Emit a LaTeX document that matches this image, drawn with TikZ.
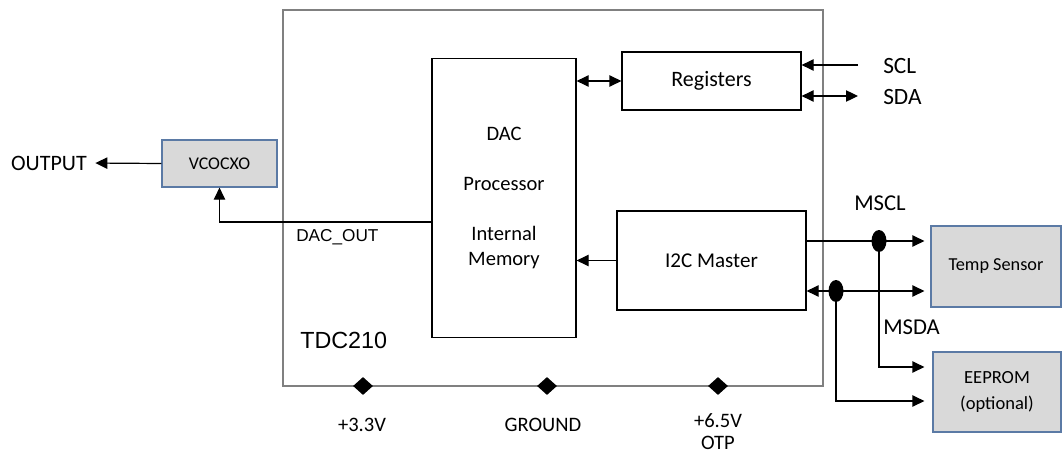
\documentclass[tikz,border=0pt]{standalone}
\usepackage{fontspec}
\setmainfont{Carlito}
\newfontfamily\arialfont{Liberation Sans}
\usetikzlibrary{arrows.meta,shapes.geometric}
\definecolor{boxfill}{RGB}{217,217,217}
\definecolor{boxline}{RGB}{91,122,165}
\definecolor{chipline}{RGB}{128,128,128}
\tikzset{
  >={Triangle[length=9pt,width=8.5pt]},
  wire/.style={draw=black,line width=0.9pt},
  blockbox/.style={draw=black,line width=0.9pt,fill=white,inner sep=0pt,align=center},
  partbox/.style={draw=boxline,line width=0.9pt,fill=boxfill,inner sep=0pt,align=center},
  junction/.style={ellipse,fill=black,inner sep=0pt,minimum width=11.25pt,minimum height=16.5pt},
  pin/.style={diamond,fill=black,inner sep=0pt,minimum width=15pt,minimum height=13.5pt},
  lbl/.style={inner sep=0.75pt,align=center}
}
\begin{document}
\begin{tikzpicture}[x=0.75pt,y=0.75pt,yscale=-1,xscale=1]
        \useasboundingbox (0,0) rectangle (1063,453);
        %Shape: Rectangle [id:chip] 
        \node [draw=chipline,line width=1.1pt,inner sep=0pt,minimum width=405pt,minimum height=282pt] (tdc) at (553,198) {};
        %Shape: Rectangle [id:dac] 
        \node [blockbox,minimum width=108pt,minimum height=209.25pt,font=\fontsize{15.4}{18.75}\selectfont] (dac) at (504,198) {DAC\\[19pt]Processor\\[19pt]Internal\\Memory};
        %Shape: Rectangle [id:registers] 
        \node [blockbox,minimum width=134.25pt,minimum height=43.5pt,font=\fontsize{16.5}{20}\selectfont] (reg) at (711.5,81) {Registers};
        %Shape: Rectangle [id:i2cmaster] 
        \node [blockbox,minimum width=141.75pt,minimum height=74.25pt,font=\fontsize{15.8}{19}\selectfont] (i2c) at (711.5,260.5) {I2C Master};
        %Shape: Rectangle [id:vcocxo] 
        \node [partbox,minimum width=86.25pt,minimum height=35.25pt,font=\fontsize{13.4}{16}\selectfont] (vco) at (219.5,163.5) {VCOCXO};
        %Shape: Rectangle [id:tempsensor] 
        \node [partbox,minimum width=97.5pt,minimum height=60.75pt,font=\fontsize{13.7}{16}\selectfont] (temp) at (996,266.5) {Temp Sensor};
        %Shape: Rectangle [id:eeprom] 
        \node [partbox,minimum width=96pt,minimum height=60pt,font=\fontsize{13.9}{19.5}\selectfont] (eeprom) at (997,392) {EEPROM\\(optional)};

        % Text Node
        \node [lbl,anchor=east,font=\fontsize{16.5}{20}\selectfont] (out) at (88,163) {OUTPUT};
        % Text Node
        \node [lbl,anchor=west,font=\arialfont\fontsize{12.9}{15}\selectfont] (dacoutlbl) at (295,237) {DAC\_OUT};
        % Text Node
        \node [lbl,anchor=west,font=\arialfont\fontsize{17.5}{21}\selectfont] (tdclbl) at (299,340) {TDC210};
        % Text Node
        \node [lbl,anchor=west,font=\fontsize{17.5}{21}\selectfont] (scl) at (882,66) {SCL};
        % Text Node
        \node [lbl,anchor=west,font=\fontsize{17.5}{21}\selectfont] (sda) at (882,97) {SDA};
        % Text Node
        \node [lbl,font=\fontsize{17}{21}\selectfont] (mscl) at (880,203) {MSCL};
        % Text Node
        \node [lbl,anchor=west,font=\fontsize{17}{21}\selectfont] (msda) at (882,327) {MSDA};

        %Straight Lines [id:dacreg] 
        \draw [wire,<->] (dac.east |- reg.west) -- (reg.west);
        %Straight Lines [id:i2cdac] 
        \draw [wire,->] (i2c.west) -- (dac.east |- i2c.west);
        %Straight Lines [id:sclin] 
        \coordinate (sclend) at (858,65);
        \draw [wire,->] (sclend) -- (reg.east |- sclend);
        %Straight Lines [id:sdaio] 
        \coordinate (sdaend) at (858,96);
        \draw [wire,<->] (reg.east |- sdaend) -- (sdaend);
        %Straight Lines [id:dacout] 
        \coordinate (dacout) at (dac.west |- 0,222);
        \draw [wire,->] (dacout) -| (vco.south);
        %Straight Lines [id:output] 
        \draw [wire,->,shorten >=5.5pt] (vco.west) -- (out.east);

        % I2C master bus
        \coordinate (msclpt) at (879,241);
        \coordinate (msdapt) at (836,291);
        \coordinate (eeA) at (eeprom.west |- 0,367);
        \coordinate (eeB) at (eeprom.west |- 0,401);
        \draw [wire,->,shorten >=4.5pt] (i2c.east |- msclpt) -- (temp.west |- msclpt);
        \draw [wire,<->,shorten >=4.5pt] (i2c.east |- msdapt) -- (temp.west |- msdapt);
        \draw [wire,->,shorten >=6pt] (msclpt) |- (eeA);
        \draw [wire,->,shorten >=6pt] (msdapt) |- (eeB);
        %Shape: Ellipse [id:dots] 
        \node [junction] (mscldot) at (msclpt) {};
        \node [junction] (msdadot) at (msdapt) {};

        %Shape: Diamond [id:pins] 
        \node [pin] (p33) at (363,386) {};
        \node [pin] (gnd) at (547,386) {};
        \node [pin] (p65) at (718,386) {};
        % Text Node
        \node [lbl,font=\fontsize{15.4}{17}\selectfont] (p33lbl) at (362,425) {+3.3V};
        % Text Node
        \node [lbl,font=\fontsize{15.4}{17}\selectfont] (gndlbl) at (543,425) {GROUND};
        % Text Node
        \node [lbl,font=\fontsize{15.4}{16.5}\selectfont] (p65lbl) at (718,432) {+6.5V\\OTP};
    \end{tikzpicture}
\end{document}
